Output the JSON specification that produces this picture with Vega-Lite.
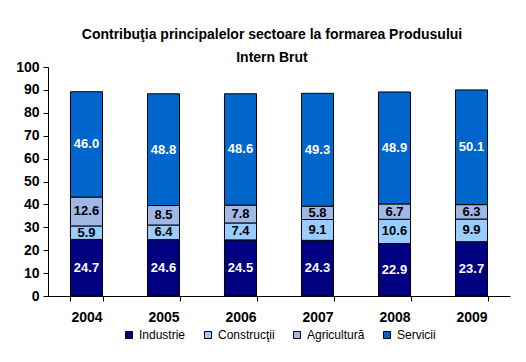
{
  "$schema": "https://vega.github.io/schema/vega-lite/v6.json",
  "width": 462,
  "height": 229,
  "autosize": {"type": "none"},
  "padding": {"left": 48, "top": 67, "right": 16, "bottom": 66},
  "background": "white",
  "title": {
    "text": ["Contribuţia principalelor sectoare la formarea Produsului", "Intern Brut"],
    "font": "Liberation Sans",
    "fontSize": 14,
    "fontWeight": "bold",
    "lineHeight": 23,
    "color": "black",
    "anchor": "middle",
    "dx": -7,
    "offset": -5
  },
  "config": {
    "view": {"stroke": null},
    "axis": {"grid": false, "domainColor": "black", "tickColor": "black", "labelColor": "black"},
    "axisY": {"labelOverlap": false, "labelFont": "Liberation Sans", "labelFontSize": 14, "labelFontWeight": "bold", "tickSize": 5, "labelPadding": 4, "title": null},
    "legend": {"layout": {"bottom": {"anchor": "middle"}}}
  },
  "data": {
    "values": [
      {"an": "2004", "sector": "Industrie", "ord": 1, "val": 24.7},
      {"an": "2004", "sector": "Construcţii", "ord": 2, "val": 5.9},
      {"an": "2004", "sector": "Agricultură", "ord": 3, "val": 12.6},
      {"an": "2004", "sector": "Servicii", "ord": 4, "val": 46.0},
      {"an": "2005", "sector": "Industrie", "ord": 1, "val": 24.6},
      {"an": "2005", "sector": "Construcţii", "ord": 2, "val": 6.4},
      {"an": "2005", "sector": "Agricultură", "ord": 3, "val": 8.5},
      {"an": "2005", "sector": "Servicii", "ord": 4, "val": 48.8},
      {"an": "2006", "sector": "Industrie", "ord": 1, "val": 24.5},
      {"an": "2006", "sector": "Construcţii", "ord": 2, "val": 7.4},
      {"an": "2006", "sector": "Agricultură", "ord": 3, "val": 7.8},
      {"an": "2006", "sector": "Servicii", "ord": 4, "val": 48.6},
      {"an": "2007", "sector": "Industrie", "ord": 1, "val": 24.3},
      {"an": "2007", "sector": "Construcţii", "ord": 2, "val": 9.1},
      {"an": "2007", "sector": "Agricultură", "ord": 3, "val": 5.8},
      {"an": "2007", "sector": "Servicii", "ord": 4, "val": 49.3},
      {"an": "2008", "sector": "Industrie", "ord": 1, "val": 22.9},
      {"an": "2008", "sector": "Construcţii", "ord": 2, "val": 10.6},
      {"an": "2008", "sector": "Agricultură", "ord": 3, "val": 6.7},
      {"an": "2008", "sector": "Servicii", "ord": 4, "val": 48.9},
      {"an": "2009", "sector": "Industrie", "ord": 1, "val": 23.7},
      {"an": "2009", "sector": "Construcţii", "ord": 2, "val": 9.9},
      {"an": "2009", "sector": "Agricultură", "ord": 3, "val": 6.3},
      {"an": "2009", "sector": "Servicii", "ord": 4, "val": 50.1}
    ]
  },
  "transform": [
    {"stack": "val", "groupby": ["an"], "sort": [{"field": "ord", "order": "ascending"}], "as": ["v0", "v1"]},
    {"calculate": "(datum.v0 + datum.v1) / 2", "as": "vmid"}
  ],
  "resolve": {"axis": {"y": "independent"}},
  "encoding": {
    "x": {
      "field": "an",
      "type": "nominal",
      "scale": {"paddingInner": 0.584, "paddingOuter": 0.292},
      "axis": {
        "title": null,
        "labelAngle": 0,
        "tickBand": "extent",
        "tickSize": 5,
        "labelPadding": 9,
        "labelFont": "Liberation Sans",
        "labelFontSize": 14,
        "labelFontWeight": "bold"
      }
    }
  },
  "layer": [
    {
      "mark": {"type": "bar", "stroke": "black", "strokeWidth": 1},
      "encoding": {
        "y": {
          "field": "v0",
          "type": "quantitative",
          "scale": {"domain": [0, 100]},
          "axis": {"values": [0, 10, 20, 30, 40, 50, 60, 70, 80, 90, 100], "labelOverlap": false}
        },
        "y2": {"field": "v1"},
        "color": {
          "field": "sector",
          "type": "nominal",
          "scale": {
            "domain": ["Industrie", "Construcţii", "Agricultură", "Servicii"],
            "range": ["#000080", "#99CCFF", "#9fb8e6", "#0066CC"]
          },
          "legend": {
            "title": null,
            "orient": "bottom",
            "direction": "horizontal",
            "symbolType": "square",
            "symbolSize": 50,
            "symbolStrokeColor": "black",
            "symbolStrokeWidth": 1,
            "symbolOpacity": 1,
            "labelFont": "Liberation Sans",
            "labelFontSize": 12,
            "labelColor": "black",
            "columnPadding": 16,
            "offset": 5
          }
        }
      }
    },
    {
      "mark": {"type": "text", "font": "Liberation Sans", "fontSize": 13, "fontWeight": "bold", "baseline": "middle"},
      "encoding": {
        "y": {"field": "vmid", "type": "quantitative", "axis": null},
        "text": {"field": "val", "type": "quantitative", "format": ".1f"},
        "color": {
          "condition": {"test": "datum.sector === 'Industrie' || datum.sector === 'Servicii'", "value": "white"},
          "value": "black"
        }
      }
    }
  ]
}
